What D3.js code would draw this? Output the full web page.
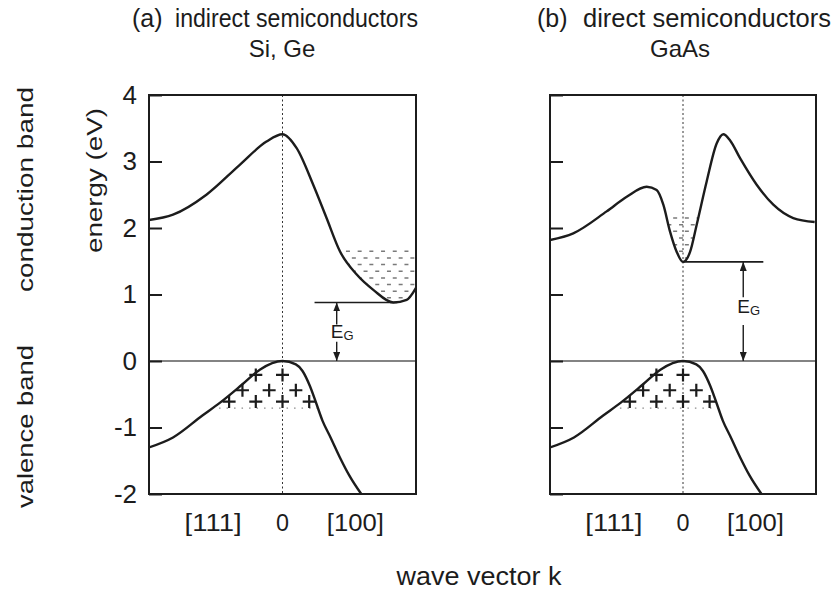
<!DOCTYPE html>
<html>
<head>
<meta charset="utf-8">
<script src="https://cdn.jsdelivr.net/npm/d3@7"></script>
<style>
  body { margin: 0; background: #fff; }
  svg { display: block; font-family: "Liberation Sans", Arial, sans-serif; }
</style>
</head>
<body>
<svg id="chart" width="834" height="590"></svg>
<script>
// k runs from -1 ([111] zone edge) to +1 ([100] zone edge), energies in eV
const energyTicks = [-2, -1, 0, 1, 2, 3, 4];
const kLabels = ["[111]", "0", "[100]"];
const kLabelPos = [-0.52, 0, 0.545];

// conduction band of Si/Ge (indirect)
const siConduction = [
  [-1.0, 2.12], [-0.82, 2.2], [-0.57, 2.5], [-0.32, 2.95], [-0.12, 3.3], [0, 3.41],
  [0.106, 3.2], [0.23, 2.65], [0.33, 2.15], [0.43, 1.65], [0.556, 1.3], [0.68, 1.07],
  [0.83, 0.88], [0.93, 0.92], [1.0, 1.1]
];

// conduction band of GaAs (direct)
const gaasConduction = [
  [-1.0, 1.82], [-0.825, 1.92], [-0.574, 2.25], [-0.423, 2.47], [-0.273, 2.62], [-0.198, 2.57],
  [-0.148, 2.35], [-0.098, 1.95], [-0.047, 1.64], [0, 1.49], [0.053, 1.64], [0.103, 2.05],
  [0.178, 2.7], [0.253, 3.27], [0.303, 3.41], [0.353, 3.32], [0.429, 3.05], [0.554, 2.65],
  [0.679, 2.35], [0.829, 2.15], [0.99, 2.09]
];

// valence band, same in both panels
const valenceBand = [
  [-1.0, -1.3], [-0.82, -1.15], [-0.6, -0.82], [-0.47, -0.63], [-0.3, -0.35], [-0.17, -0.13],
  [0, 0], [0.1, -0.05], [0.15, -0.15], [0.206, -0.38], [0.25, -0.62], [0.3, -0.9],
  [0.36, -1.15], [0.43, -1.45], [0.5, -1.72], [0.59, -2.0]
];

const siGap = 0.88;
const gaasGap = 1.49;

// electron levels (dashed rows) and holes (+ marks)
const siElectronLevels = [1.65, 1.55, 1.45, 1.35, 1.25, 1.15, 1.05, 0.95];
const gaasElectronLevels = [2.15, 2.05, 1.95, 1.85, 1.75, 1.65, 1.55];
const holeK = [-0.2, 0, -0.3, -0.1, 0.1, -0.4, -0.2, 0, 0.2];
const holeE = [-0.21, -0.21, -0.44, -0.44, -0.44, -0.61, -0.61, -0.61, -0.61];
const holeFloor = -0.71;

const panels = [
  { x0: 149, x1: 416, conduction: siConduction, levels: siElectronLevels, fillK: [0.3, 1],
    gap: siGap, gapLine: [0.24, 0.86], arrowK: 0.406, shaft: [0.55, 0.29], labelE: 0.35,
    head: "(a)", title: "indirect semiconductors", sub: "Si, Ge", showY: true },
  { x0: 550, x1: 816, conduction: gaasConduction, levels: gaasElectronLevels, fillK: [-0.25, 0.25],
    gap: gaasGap, gapLine: [0, 0.604], arrowK: 0.453, shaft: [0.96, 0.54], labelE: 0.72,
    head: "(b)", title: "direct semiconductors", sub: "GaAs", showY: false }
];

const ink = "#1c1c1c";
const svg = d3.select("#chart");
const defs = svg.append("defs");

defs.append("marker")
    .attr("id", "arrow")
    .attr("viewBox", "0 0 10 10")
    .attr("refX", 10).attr("refY", 5)
    .attr("markerUnits", "userSpaceOnUse")
    .attr("markerWidth", 9).attr("markerHeight", 7)
    .attr("preserveAspectRatio", "none")
    .attr("orient", "auto")
  .append("path")
    .attr("d", "M0,0L10,5L0,10z")
    .attr("fill", ink);

const y = d3.scaleLinear().domain([-2, 4]).range([494, 95]);

function addText(g, str, x, yy, size, opts = {}) {
  const t = g.append("text")
      .attr("transform", `translate(${x},${yy})` + (opts.rotate ? ` rotate(${opts.rotate})` : ""))
      .attr("text-anchor", opts.anchor || "middle")
      .attr("font-size", size)
      .attr("fill", ink)
      .text(str);
  if (opts.len) t.attr("textLength", opts.len).attr("lengthAdjust", "spacingAndGlyphs");
  return t;
}

panels.forEach((p, i) => {
  const x = d3.scaleLinear().domain([-1, 1]).range([p.x0, p.x1]);
  const g = svg.append("g");

  const line = d3.line()
      .x(d => x(d[0]))
      .y(d => y(d[1]))
      .curve(d3.curveMonotoneX);

  // clip regions: above the conduction band, below the valence band, inside the frame
  defs.append("clipPath").attr("id", "above" + i)
    .append("path")
      .attr("d", d3.area().x(d => x(d[0])).y0(d => y(d[1])).y1(y(4)).curve(d3.curveMonotoneX)(p.conduction));
  defs.append("clipPath").attr("id", "below" + i)
    .append("path")
      .attr("d", d3.area().x(d => x(d[0])).y0(d => y(d[1])).y1(y(-2)).curve(d3.curveMonotoneX)(valenceBand));
  defs.append("clipPath").attr("id", "frame" + i)
    .append("rect")
      .attr("x", x(-1)).attr("y", y(4))
      .attr("width", x(1) - x(-1)).attr("height", y(-2) - y(4));

  // electrons
  g.append("g")
      .attr("clip-path", `url(#above${i})`)
    .selectAll("line")
    .data(p.levels)
    .join("line")
      .attr("x1", x(p.fillK[0])).attr("x2", x(p.fillK[1]))
      .attr("y1", d => y(d)).attr("y2", d => y(d))
      .attr("stroke", "#7a7a7a")
      .attr("stroke-width", 1.5)
      .attr("stroke-dasharray", "4,7.7")
      .attr("stroke-dashoffset", (d, j) => j % 2 ? 5.8 : 0);

  // floor of the hole pocket
  g.append("line")
      .attr("clip-path", `url(#below${i})`)
      .attr("x1", x(-0.7)).attr("x2", x(0.4))
      .attr("y1", y(holeFloor)).attr("y2", y(holeFloor))
      .attr("stroke", "#8a8a8a")
      .attr("stroke-width", 1.3)
      .attr("stroke-dasharray", "1.5,6");

  // E = 0 line and k = 0 dotted line
  g.append("line")
      .attr("x1", x(-1)).attr("x2", x(1))
      .attr("y1", y(0)).attr("y2", y(0))
      .attr("stroke", "#5a5a5a")
      .attr("stroke-width", 1.6);
  g.append("line")
      .attr("x1", x(0)).attr("x2", x(0))
      .attr("y1", y(4)).attr("y2", y(-2))
      .attr("stroke", "#333")
      .attr("stroke-width", 1)
      .attr("stroke-dasharray", "2,2.5");

  // bands
  const bands = g.append("g").attr("clip-path", `url(#frame${i})`);
  [p.conduction, valenceBand].forEach(b => {
    bands.append("path")
        .datum(b)
        .attr("fill", "none")
        .attr("stroke", ink)
        .attr("stroke-width", 2.4)
        .attr("stroke-linejoin", "round")
        .attr("d", line);
  });

  // holes
  g.selectAll(".hole")
    .data(holeK)
    .join("path")
      .attr("class", "hole")
      .attr("transform", (d, j) => `translate(${x(d)},${y(holeE[j])})`)
      .attr("d", "M-6.5,0H6.5M0,-6.5V6.5")
      .attr("stroke", ink)
      .attr("stroke-width", 2.2);

  // y axis with inner ticks
  const axis = d3.axisLeft(y)
      .tickValues(energyTicks)
      .tickSizeInner(-13)
      .tickSizeOuter(0)
      .tickPadding(12)
      .tickFormat(d => p.showY ? String(d) : "");
  const ga = g.append("g")
      .attr("transform", `translate(${x(-1)},0)`)
      .call(axis);
  ga.select(".domain").remove();
  ga.selectAll(".tick line").attr("stroke", ink).attr("stroke-width", 2);
  ga.selectAll(".tick text")
      .attr("font-size", 26)
      .attr("font-family", "Liberation Sans, Arial, sans-serif")
      .attr("fill", ink);

  // frame
  g.append("rect")
      .attr("x", x(-1)).attr("y", y(4))
      .attr("width", x(1) - x(-1)).attr("height", y(-2) - y(4))
      .attr("fill", "none")
      .attr("stroke", ink)
      .attr("stroke-width", 2);

  // band gap
  g.append("line")
      .attr("x1", x(p.gapLine[0])).attr("x2", x(p.gapLine[1]))
      .attr("y1", y(p.gap)).attr("y2", y(p.gap))
      .attr("stroke", ink)
      .attr("stroke-width", 1.6);
  g.append("line")
      .attr("x1", x(p.arrowK)).attr("x2", x(p.arrowK))
      .attr("y1", y(p.shaft[0])).attr("y2", y(p.gap))
      .attr("stroke", ink).attr("stroke-width", 1.4)
      .attr("marker-end", "url(#arrow)");
  g.append("line")
      .attr("x1", x(p.arrowK)).attr("x2", x(p.arrowK))
      .attr("y1", y(p.shaft[1])).attr("y2", y(0))
      .attr("stroke", ink).attr("stroke-width", 1.4)
      .attr("marker-end", "url(#arrow)");
  const eg = g.append("text")
      .attr("x", x(p.arrowK) - 6)
      .attr("y", y(p.labelE))
      .attr("font-size", 19)
      .attr("fill", ink)
      .text("E");
  eg.append("tspan")
      .attr("font-size", 13)
      .attr("dy", 2)
      .text("G");

  // k labels
  kLabels.forEach((lab, j) => {
    addText(g, lab, x(kLabelPos[j]), 531, 23, { len: lab.length > 1 ? 57 : 13 });
  });

  // titles
  addText(g, p.head, p.x0 - (i ? 13 : 17), 27, 25, { anchor: "start" });
  addText(g, p.title, i ? 583 : 175, 27, 25, { anchor: "start", len: i ? 248 : 243 });
  addText(g, p.sub, i ? 680 : 282, 57, 24);
});

// shared labels
addText(svg, "energy (eV)", 102, 180.5, 22, { rotate: -90, len: 145 });
addText(svg, "conduction band", 33, 189.5, 22, { rotate: -90, len: 205 });
addText(svg, "valence band", 33, 426.5, 22, { rotate: -90, len: 163 });
addText(svg, "wave vector k", 479, 585, 25, { len: 165 });
</script>
</body>
</html>
